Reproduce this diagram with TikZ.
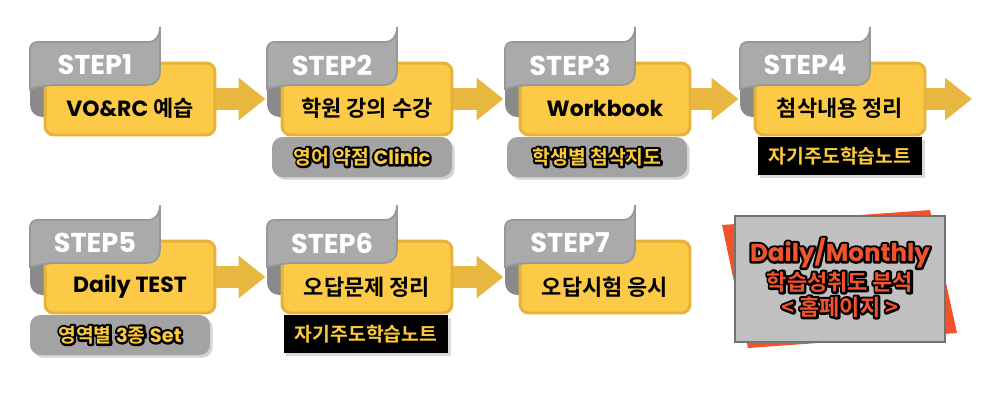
\documentclass[tikz,border=0pt]{standalone}
\usepackage{fontspec}
\setmainfont{Noto Sans CJK KR}[BoldFont={* Bold}]
\newfontfamily\latfont{Poppins}[BoldFont={* Bold}]
\usetikzlibrary{arrows.meta,positioning,shadows,backgrounds}

% text with a black rim: a stroked black copy under the coloured text
\newcommand{\rimtext}[1]{\leavevmode\rlap{\textcolor{black}{\special{pdf:literal direct 2 Tr 2.6 w 1 j}#1\special{pdf:literal direct 0 Tr}}}#1}

\definecolor{boxyellow}{RGB}{252,202,70}
\definecolor{boxedge}{RGB}{230,178,58}
\definecolor{flowyellow}{RGB}{232,183,64}
\definecolor{tabgrey}{RGB}{170,170,170}
\definecolor{tabedge}{RGB}{152,152,152}
\definecolor{tabroll}{RGB}{138,138,138}
\definecolor{labelgrey}{RGB}{163,163,163}
\definecolor{labelyellow}{RGB}{252,202,60}
\definecolor{infogrey}{RGB}{192,192,192}
\definecolor{infored}{RGB}{242,83,45}

\tikzset{
  stepbox/.style={draw=boxedge, fill=boxyellow, line width=1.7pt, rounded corners=5pt,
    minimum width=3.4cm, minimum height=1.44cm},
  steptext/.style={font=\bfseries\fontsize{12.5}{14}\selectfont, text=black},
  tabname/.style={font=\latfont\bfseries\fontsize{15.5}{17}\selectfont, text=white},
  tabface/.style={fill=tabgrey, draw=tabedge, line width=1pt},
  flow/.style={draw=flowyellow, line width=12.5pt,
    -{Triangle[length=15.3pt, width=23.2pt]}},
  greylabel/.style={fill=labelgrey, rounded corners=6pt, minimum width=3.6cm, minimum height=0.8cm,
    text=labelyellow, font=\bfseries\fontsize{11}{12}\selectfont,
    drop shadow={shadow xshift=1.5pt, shadow yshift=-1.5pt, opacity=0.35}},
  blacklabel/.style={fill=black, minimum width=3.3cm, minimum height=0.76cm,
    text=labelyellow, font=\bfseries\fontsize{11}{12}\selectfont,
    drop shadow={shadow xshift=1.5pt, shadow yshift=-1.5pt, opacity=0.3}},
  infobox/.style={fill=infogrey, draw=black!55, line width=1pt,
    minimum width=4.2cm, minimum height=2.52cm},
  infotext/.style={text=infored, font=\bfseries\fontsize{12.5}{14}\selectfont}
}

\begin{document}
\begin{tikzpicture}[x=0.02cm, y=-0.02cm]
  \useasboundingbox (0,0) rectangle (1000,400);

  % yellow step boxes
  \node[stepbox] (s1) at (130,99)  {};
  \node[stepbox] (s2) at (367,99)  {};
  \node[stepbox] (s3) at (605,99)  {};
  \node[stepbox] (s4) at (840,99)  {};
  \node[stepbox] (s5) at (130,277) {};
  \node[stepbox] (s6) at (367,277) {};
  \node[stepbox] (s7) at (605,277) {};

  \node[steptext] (t1) at (130,108) {{\latfont VO\&RC} 예습};
  \node[steptext] (t2) at (367,108) {학원 강의 수강};
  \node[steptext] (t3) at (605,108) {\latfont Workbook};
  \node[steptext] (t4) at (840,108) {첨삭내용 정리};
  \node[steptext] (t5) at (130,287) {\latfont Daily TEST};
  \node[steptext] (t6) at (367,287) {오답문제 정리};
  \node[steptext] (t7) at (605,287) {오답시험 응시};

  % grey tabs with the curled corner
  \foreach \i in {1,...,7} {
    \begin{scope}[shift={(s\i.center)}]
      \begin{pgfonlayer}{background}
        \fill[tabroll, rounded corners=7pt] (-100,-20) rectangle (-60,18);
      \end{pgfonlayer}
      \filldraw[tabface] (-100,-10) {[rounded corners=4pt] -- (-100,-57) -- (12,-57)}
        .. controls (25,-57) and (30,-63) .. (30,-72)
        {[rounded corners=7pt] -- (30,-14) -- (-85,-14)} -- cycle;
      \node[tabname] (n\i) at (-35,-34) {STEP\i};
    \end{scope}
  }

  % arrows between the steps
  \coordinate (end4) at (972,99);
  \begin{scope}[on background layer]
    \draw[flow, shorten >=0.3cm] (s1.east) -- (s1.east -| s2.west);
    \draw[flow, shorten >=0.3cm] (s2.east) -- (s2.east -| s3.west);
    \draw[flow, shorten >=0.3cm] (s3.east) -- (s3.east -| s4.west);
    \draw[flow] (s4.east) -- (end4);
    \draw[flow, shorten >=0.3cm] (s5.east) -- (s5.east -| s6.west);
    \draw[flow, shorten >=0.3cm] (s6.east) -- (s6.east -| s7.west);
  \end{scope}

  % notes under the steps
  \node[greylabel] (l2) at (362,157) {\rimtext{영어 약점 {\latfont Clinic}}};
  \node[greylabel] (l3) at (597,157) {\rimtext{학생별 첨삭지도}};
  \node[blacklabel] (l4) at (840,156) {자기주도학습노트};
  \node[greylabel] (l5) at (120,335) {\rimtext{영역별 {\latfont 3}종 {\latfont Set}}};
  \node[blacklabel] (l6) at (366,334) {자기주도학습노트};

  % homepage box
  \fill[infored] (722,225) -- (930,210) -- (957,333) -- (748,348) -- cycle;
  \node[infobox] (info) at (840,279) {};
  \node[infotext, font=\latfont\bfseries\fontsize{14}{16}\selectfont] (i1) at (840,253) {\rimtext{Daily/Monthly}};
  \node[infotext] (i2) at (840,282) {\rimtext{학습성취도 분석}};
  \node[infotext] (i3) at (840,307) {\rimtext{< 홈페이지 >}};

\end{tikzpicture}
\end{document}
